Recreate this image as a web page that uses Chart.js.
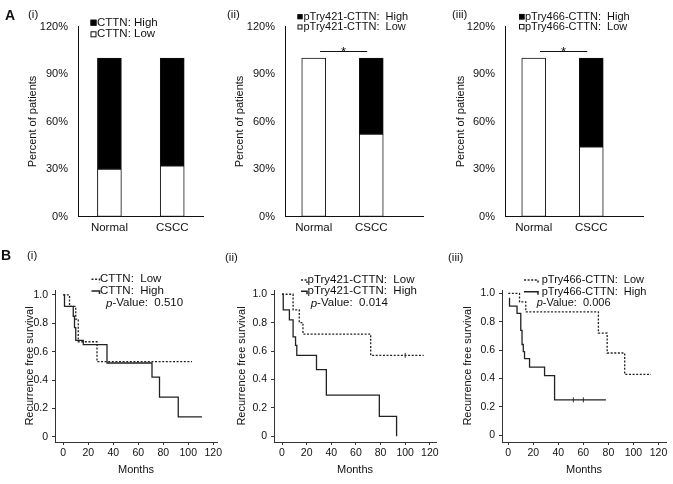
<!DOCTYPE html>
<html>
<head>
<meta charset="utf-8">
<script src="https://cdn.jsdelivr.net/npm/chart.js@4.4.1/dist/chart.umd.min.js"></script>
<style>
  body { margin: 0; background: #fff; width: 673px; height: 484px; position: relative; overflow: hidden;
         font-family: "Liberation Sans", Arial, sans-serif; color: #111; }
  canvas { position: absolute; }
  .lbl { position: absolute; line-height: 1; white-space: nowrap; color: #111; will-change: transform; }
  .big { font-weight: bold; font-size: 14px; }
  .sub { font-size: 11.5px; }
</style>
</head>
<body>
<div class="lbl big" style="left:5px;top:8px">A</div>
<div class="lbl sub" style="left:28px;top:8.5px">(i)</div>
<div class="lbl sub" style="left:226.5px;top:8.5px">(ii)</div>
<div class="lbl sub" style="left:451.5px;top:9px">(iii)</div>
<div class="lbl big" style="left:0.5px;top:247.5px">B</div>
<div class="lbl sub" style="left:26.5px;top:250px">(i)</div>
<div class="lbl sub" style="left:225px;top:252px">(ii)</div>
<div class="lbl sub" style="left:448px;top:252px">(iii)</div>

<canvas id="a1" width="230" height="240" style="left:0;top:0"></canvas>
<canvas id="a2" width="230" height="240" style="left:220px;top:0"></canvas>
<canvas id="a3" width="233" height="240" style="left:440px;top:0"></canvas>
<canvas id="b1" width="240" height="244" style="left:0;top:240px"></canvas>
<canvas id="b2" width="240" height="244" style="left:220px;top:240px"></canvas>
<canvas id="b3" width="233" height="244" style="left:440px;top:240px"></canvas>

<script>
// --- datos: panel A (porcentaje de pacientes) ---
const barCategories = ['Normal', 'CSCC']
const barTicks = [0, 30, 60, 90, 120]
const cttnLow = [30, 32]
const cttnHigh = [70, 68]
const p421Low = [100, 52]
const p421High = [0, 48]
const p466Low = [100, 44]
const p466High = [0, 56]
const sigSpan = [1.11, 1.93]   // desde Normal hasta CSCC
const sigLevel = 104.5

// --- datos: panel B (Kaplan-Meier, meses / supervivencia) ---
const monthTicks = [0, 20, 40, 60, 80, 100, 120]
const survTicks = [0, 0.2, 0.4, 0.6, 0.8, 1.0]

const cttnLowMonths = [0, 5, 10, 12, 27, 103]
const cttnLowSurv = [1.0, 0.92, 0.83, 0.67, 0.53, 0.53]
const cttnHighMonths = [0, 1, 8, 9, 10, 16, 35, 71, 77, 92, 111]
const cttnHighSurv = [1.0, 0.92, 0.85, 0.77, 0.68, 0.65, 0.52, 0.42, 0.28, 0.14, 0.14]

const p421LowMonths = [0, 9, 14, 17, 72, 115]
const p421LowSurv = [1.0, 0.89, 0.8, 0.72, 0.57, 0.57]
const p421HighMonths = [0, 1, 6, 9, 11, 12, 28, 36, 79, 93]
const p421HighSurv = [1.0, 0.89, 0.82, 0.7, 0.64, 0.57, 0.47, 0.29, 0.14, 0]
const p421CensorMonths = [100]
const p421CensorSurv = [0.57]

const p466LowMonths = [0, 9, 14, 72, 79, 93, 114]
const p466LowSurv = [1.0, 0.94, 0.87, 0.72, 0.58, 0.43, 0.43]
const p466HighMonths = [1, 1, 7, 10, 11, 12, 13, 17, 29, 37, 78]
const p466HighSurv = [0.97, 0.91, 0.86, 0.74, 0.64, 0.59, 0.54, 0.48, 0.42, 0.25, 0.25]
const p466CensorMonths = [52, 60]
const p466CensorSurv = [0.25, 0.25]

const FONT = '"Liberation Sans", Arial, sans-serif'
const INK = '#111'
Chart.defaults.font.family = FONT
Chart.defaults.color = INK
Chart.defaults.animation = false

const toPoints = (xs, ys) => xs.map((x, i) => ({ x, y: ys[i] }))
const fixTicks = values => s => { s.ticks = values.map(v => ({ value: v })) }

// leyendas, barra de significancia y p-valor dibujados a mano
const panelDecor = {
  id: 'panelDecor',
  afterDatasetsDraw(chart, args, o) {
    const ctx = chart.ctx
    const L = o.legend
    ctx.save()
    ctx.textBaseline = 'middle'
    ctx.textAlign = 'left'
    ctx.font = `${L.size}px ${FONT}`

    if (o.kind === 'bar') {
      const rows = [chart.data.datasets[1], chart.data.datasets[0]] // High arriba
      rows.forEach((ds, i) => {
        const y = L.y + i * L.gap
        const s = L.box
        ctx.fillStyle = ds.backgroundColor
        ctx.fillRect(L.x, y - s / 2, s, s)
        ctx.strokeStyle = INK
        ctx.lineWidth = 1
        ctx.strokeRect(L.x + 0.5, y - s / 2 + 0.5, s - 1, s - 1)
        ctx.fillStyle = INK
        ctx.fillText(ds.label, L.textX, y)
      })
      if (o.sig) {
        const xs = chart.scales.x, ys = chart.scales.y
        const y = Math.round(ys.getPixelForValue(sigLevel)) + 0.5
        const x0 = xs.getPixelForValue(sigSpan[0]), x1 = xs.getPixelForValue(sigSpan[1])
        ctx.strokeStyle = INK
        ctx.lineWidth = 1
        ctx.beginPath(); ctx.moveTo(x0, y); ctx.lineTo(x1, y); ctx.stroke()
        ctx.font = `13px ${FONT}`
        ctx.textAlign = 'center'
        ctx.textBaseline = 'alphabetic'
        ctx.fillStyle = INK
        ctx.fillText('*', (x0 + x1) / 2, y + 4)
      }
    } else {
      const rows = [chart.data.datasets[0], chart.data.datasets[1]]
      rows.forEach((ds, i) => {
        const y = L.y + i * L.gap
        ctx.strokeStyle = '#222'
        ctx.lineWidth = 1.5
        ctx.setLineDash(ds.borderDash || [])
        ctx.beginPath()
        ctx.moveTo(L.x, y)
        ctx.lineTo(L.x + L.w, y)
        ctx.lineTo(L.x + L.w, y + 3)
        ctx.stroke()
        ctx.setLineDash([])
        ctx.fillStyle = INK
        ctx.fillText(ds.label, L.textX, y)
      })
      // p-Value con la p en cursiva
      const P = o.pValue
      ctx.font = `italic ${L.size}px ${FONT}`
      ctx.fillText('p', P.x, P.y)
      const w = ctx.measureText('p').width
      ctx.font = `${L.size}px ${FONT}`
      ctx.fillText('-Value:  ' + P.text, P.x + w, P.y)
    }
    ctx.restore()
  }
}

function makeBarPanel(id, cfg) {
  const xs = barCategories.map((c, i) => i + 1)
  const barStyle = { borderColor: INK, borderWidth: 1, borderSkipped: false, barThickness: 24 }
  new Chart(document.getElementById(id), {
    type: 'bar',
    data: {
      datasets: [
        { label: cfg.lowLabel, data: toPoints(xs, cfg.low), backgroundColor: '#fff', ...barStyle },
        { label: cfg.highLabel, data: toPoints(xs, cfg.high), backgroundColor: '#000', ...barStyle }
      ]
    },
    options: {
      responsive: false,
      layout: { padding: cfg.pad },
      plugins: {
        legend: { display: false },
        tooltip: { enabled: false },
        panelDecor: { kind: 'bar', legend: cfg.legend, sig: cfg.sig }
      },
      scales: {
        x: {
          type: 'linear', stacked: true, offset: false,
          min: 0.5, max: cfg.xMax,
          afterBuildTicks: fixTicks(xs),
          ticks: { callback: v => barCategories[v - 1], padding: 4, font: { size: 11.5 }, maxRotation: 0, autoSkip: false },
          grid: { display: false, drawTicks: false, offset: false },
          border: { color: INK, width: 1 },
          afterFit: s => { s.height = 20 }
        },
        y: {
          stacked: true, min: 0, max: 120,
          afterBuildTicks: fixTicks(barTicks),
          ticks: { callback: v => v + '%', padding: 10, font: { size: 11 } },
          grid: { display: false, drawTicks: false },
          border: { color: INK, width: 1 },
          title: { display: true, text: 'Percent of patients', font: { size: 11 }, padding: 0 },
          afterFit: s => { s.width = cfg.yAxisW }
        }
      }
    },
    plugins: [panelDecor]
  })
}

function makeKmPanel(id, cfg) {
  // 'before' = primero el tramo horizontal y luego la caída (escalón de Kaplan-Meier)
  const line = { showLine: true, stepped: 'before', borderColor: '#222', borderWidth: 1.3, pointRadius: 0, fill: false }
  new Chart(document.getElementById(id), {
    type: 'scatter',
    data: {
      datasets: [
        { label: cfg.lowLabel, data: toPoints(cfg.lowMonths, cfg.lowSurv), borderDash: [2, 1.6], ...line },
        { label: cfg.highLabel, data: toPoints(cfg.highMonths, cfg.highSurv), ...line },
        { label: 'censored', data: toPoints(cfg.censorMonths || [], cfg.censorSurv || []),
          pointStyle: 'line', rotation: 90, pointRadius: 2.5, borderColor: '#333', borderWidth: 1, showLine: false }
      ]
    },
    options: {
      responsive: false,
      layout: { padding: cfg.pad },
      plugins: {
        legend: { display: false },
        tooltip: { enabled: false },
        panelDecor: { kind: 'km', legend: cfg.legend, pValue: cfg.pValue }
      },
      scales: {
        x: {
          type: 'linear', min: cfg.xMin, max: cfg.xMax,
          afterBuildTicks: fixTicks(monthTicks),
          ticks: { padding: 2, font: { size: 10.5 }, maxRotation: 0, autoSkip: false },
          grid: { display: true, drawOnChartArea: false, tickLength: 3, color: '#333' },
          border: { color: '#333', width: 1 },
          title: { display: true, text: 'Months', font: { size: 11 }, padding: { top: 0, bottom: 3.4 } },
          afterFit: s => { s.height = 38 }
        },
        y: {
          min: cfg.yMin, max: cfg.yMax,
          afterBuildTicks: fixTicks(survTicks),
          ticks: { padding: 4, font: { size: 10.5 }, callback: v => (v === 0 ? '0' : v.toFixed(1)) },
          grid: { display: true, drawOnChartArea: false, tickLength: 3, color: '#333' },
          border: { color: '#333', width: 1 },
          title: { display: true, text: 'Recurrence free survival', font: { size: 11 }, padding: 0 },
          afterFit: s => { s.width = cfg.yAxisW }
        }
      }
    },
    plugins: [panelDecor]
  })
}

// --- Panel A ---
makeBarPanel('a1', {
  low: cttnLow, high: cttnHigh, lowLabel: 'CTTN: Low', highLabel: 'CTTN: High',
  xMax: 2.49, yAxisW: 51.6, pad: { left: 26.4, right: 27, top: 26.5, bottom: 3.5 },
  legend: { x: 90.5, textX: 97, y: 22.7, gap: 11.6, box: 6, size: 11.5 }
})
makeBarPanel('a2', {
  low: p421Low, high: p421High, lowLabel: 'pTry421-CTTN:  Low', highLabel: 'pTry421-CTTN:  High',
  xMax: 2.9, yAxisW: 51.6, pad: { left: 13.4, right: 27, top: 26.5, bottom: 3.5 },
  legend: { x: 77.5, textX: 83.5, y: 16.7, gap: 10.3, box: 5, size: 11 }, sig: true
})
makeBarPanel('a3', {
  low: p466Low, high: p466High, lowLabel: 'pTry466-CTTN:  Low', highLabel: 'pTry466-CTTN:  High',
  xMax: 2.9, yAxisW: 50.9, pad: { left: 14.1, right: 30, top: 26.5, bottom: 3.5 },
  legend: { x: 79, textX: 85, y: 16.7, gap: 10, box: 5.5, size: 11 }, sig: true
})

// --- Panel B ---
makeKmPanel('b1', {
  lowMonths: cttnLowMonths, lowSurv: cttnLowSurv, highMonths: cttnHighMonths, highSurv: cttnHighSurv,
  lowLabel: 'CTTN:  Low', highLabel: 'CTTN:  High',
  xMin: -6.6, xMax: 123, yMin: -0.037, yMax: 1.035,
  yAxisW: 31.6, pad: { left: 23.4, right: 23, top: 50, bottom: 4 },
  legend: { x: 91.5, w: 8, textX: 100, y: 39.3, gap: 11.7, size: 11.5 },
  pValue: { x: 106, y: 63.3, text: '0.510' }
})
makeKmPanel('b2', {
  lowMonths: p421LowMonths, lowSurv: p421LowSurv, highMonths: p421HighMonths, highSurv: p421HighSurv,
  censorMonths: p421CensorMonths, censorSurv: p421CensorSurv,
  lowLabel: 'pTry421-CTTN:  Low', highLabel: 'pTry421-CTTN:  High',
  xMin: -6.5, xMax: 125, yMin: -0.04, yMax: 1.03,
  yAxisW: 38.9, pad: { left: 15.1, right: 24, top: 50, bottom: 4 },
  legend: { x: 81, w: 6, textX: 87.5, y: 40, gap: 11.3, size: 11.5 },
  pValue: { x: 90.7, y: 63.3, text: '0.014' }
})
makeKmPanel('b3', {
  lowMonths: p466LowMonths, lowSurv: p466LowSurv, highMonths: p466HighMonths, highSurv: p466HighSurv,
  censorMonths: p466CensorMonths, censorSurv: p466CensorSurv,
  lowLabel: 'pTry466-CTTN:  Low', highLabel: 'pTry466-CTTN:  High',
  xMin: -5, xMax: 126, yMin: -0.047, yMax: 1.024,
  yAxisW: 40.3, pad: { left: 21.7, right: 7, top: 50, bottom: 4 },
  legend: { x: 84, w: 14, textX: 101.7, y: 40, gap: 11.7, size: 11 },
  pValue: { x: 96.7, y: 63, text: '0.006' }
})
</script>
</body>
</html>
